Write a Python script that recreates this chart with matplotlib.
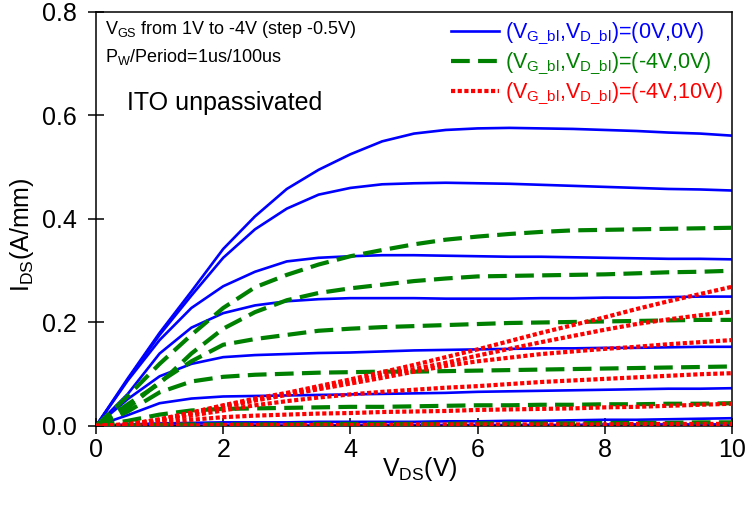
import matplotlib
matplotlib.use("Agg")
import matplotlib.pyplot as plt

plt.rcParams["font.family"] = ["Liberation Sans", "DejaVu Sans"]
plt.rcParams["mathtext.fontset"] = "custom"
plt.rcParams["mathtext.rm"] = "Liberation Sans"
plt.rcParams["mathtext.it"] = "Liberation Sans"

# drain voltage sweep (V)
vds = [0.0, 0.5, 1.0, 1.5, 2.0, 2.5, 3.0, 3.5, 4.0, 4.5, 5.0,
       5.5, 6.0, 6.5, 7.0, 7.5, 8.0, 8.5, 9.0, 9.5, 10.0]

# (VG_bl, VD_bl) = (0V, 0V), VGS = 1V ... -4V
ids_0_0 = [
    [0, 0.092, 0.180, 0.260, 0.342, 0.405, 0.458, 0.495, 0.525, 0.550, 0.565, 0.572, 0.575, 0.576, 0.575, 0.574, 0.572, 0.570, 0.567, 0.565, 0.561],
    [0, 0.090, 0.176, 0.252, 0.325, 0.380, 0.420, 0.447, 0.460, 0.467, 0.469, 0.470, 0.469, 0.468, 0.466, 0.464, 0.462, 0.460, 0.458, 0.457, 0.455],
    [0, 0.088, 0.166, 0.228, 0.270, 0.298, 0.318, 0.325, 0.328, 0.330, 0.330, 0.329, 0.328, 0.327, 0.327, 0.326, 0.325, 0.324, 0.323, 0.323, 0.322],
    [0, 0.062, 0.140, 0.190, 0.218, 0.233, 0.241, 0.245, 0.247, 0.247, 0.247, 0.246, 0.246, 0.246, 0.247, 0.247, 0.248, 0.248, 0.249, 0.250, 0.250],
    [0, 0.052, 0.096, 0.120, 0.133, 0.137, 0.139, 0.141, 0.142, 0.144, 0.146, 0.147, 0.148, 0.149, 0.150, 0.150, 0.151, 0.151, 0.152, 0.153, 0.153],
    [0, 0.021, 0.044, 0.053, 0.057, 0.058, 0.059, 0.060, 0.061, 0.062, 0.063, 0.064, 0.066, 0.067, 0.068, 0.069, 0.070, 0.071, 0.072, 0.072, 0.073],
    [0, 0.003, 0.005, 0.006, 0.007, 0.007, 0.007, 0.008, 0.008, 0.008, 0.008, 0.009, 0.009, 0.010, 0.010, 0.011, 0.012, 0.012, 0.013, 0.014, 0.015],
    [0, 0.000, 0.001, 0.001, 0.001, 0.001, 0.001, 0.001, 0.002, 0.002, 0.002, 0.002, 0.002, 0.002, 0.002, 0.002, 0.003, 0.003, 0.003, 0.003, 0.003],
]

# (VG_bl, VD_bl) = (-4V, 0V)
ids_m4_0 = [
    [0, 0.058, 0.120, 0.176, 0.228, 0.268, 0.292, 0.312, 0.328, 0.340, 0.351, 0.360, 0.366, 0.371, 0.375, 0.378, 0.379, 0.380, 0.381, 0.382, 0.383],
    [0, 0.042, 0.082, 0.140, 0.188, 0.220, 0.243, 0.257, 0.266, 0.273, 0.280, 0.285, 0.289, 0.290, 0.291, 0.292, 0.293, 0.295, 0.297, 0.298, 0.300],
    [0, 0.035, 0.085, 0.125, 0.157, 0.168, 0.176, 0.184, 0.188, 0.191, 0.193, 0.195, 0.197, 0.199, 0.200, 0.201, 0.202, 0.203, 0.204, 0.205, 0.205],
    [0, 0.028, 0.065, 0.086, 0.095, 0.099, 0.101, 0.103, 0.104, 0.105, 0.105, 0.106, 0.107, 0.108, 0.109, 0.110, 0.111, 0.112, 0.113, 0.114, 0.115],
    [0, 0.010, 0.022, 0.030, 0.033, 0.034, 0.035, 0.036, 0.037, 0.037, 0.038, 0.039, 0.040, 0.040, 0.041, 0.041, 0.042, 0.042, 0.043, 0.043, 0.044],
    [0, 0.001, 0.002, 0.003, 0.003, 0.003, 0.003, 0.004, 0.004, 0.004, 0.004, 0.004, 0.005, 0.005, 0.005, 0.005, 0.006, 0.006, 0.006, 0.007, 0.007],
]

# (VG_bl, VD_bl) = (-4V, 10V)
ids_m4_10 = [
    [0, 0.003, 0.013, 0.026, 0.040, 0.053, 0.064, 0.077, 0.090, 0.104, 0.118, 0.133, 0.148, 0.164, 0.180, 0.195, 0.210, 0.226, 0.241, 0.255, 0.269],
    [0, 0.003, 0.012, 0.025, 0.039, 0.051, 0.062, 0.074, 0.086, 0.098, 0.110, 0.122, 0.136, 0.149, 0.162, 0.174, 0.186, 0.197, 0.206, 0.214, 0.221],
    [0, 0.003, 0.012, 0.024, 0.037, 0.049, 0.060, 0.071, 0.082, 0.093, 0.105, 0.116, 0.125, 0.132, 0.139, 0.144, 0.149, 0.153, 0.158, 0.162, 0.166],
    [0, 0.002, 0.010, 0.020, 0.030, 0.040, 0.048, 0.055, 0.061, 0.066, 0.070, 0.074, 0.077, 0.081, 0.085, 0.088, 0.091, 0.094, 0.097, 0.100, 0.102],
    [0, 0.001, 0.006, 0.012, 0.017, 0.020, 0.022, 0.024, 0.025, 0.027, 0.028, 0.029, 0.031, 0.032, 0.033, 0.034, 0.036, 0.037, 0.039, 0.041, 0.043],
    [0, 0.000, 0.001, 0.001, 0.002, 0.002, 0.002, 0.002, 0.002, 0.002, 0.003, 0.003, 0.003, 0.003, 0.003, 0.003, 0.003, 0.004, 0.004, 0.004, 0.004],
]

labels = [r"(V$_{\mathrm{G\_bl}}$,V$_{\mathrm{D\_bl}}$)=(0V,0V)",
          r"(V$_{\mathrm{G\_bl}}$,V$_{\mathrm{D\_bl}}$)=(-4V,0V)",
          r"(V$_{\mathrm{G\_bl}}$,V$_{\mathrm{D\_bl}}$)=(-4V,10V)"]

fig = plt.figure(figsize=(7.47, 5.09), dpi=100)
ax = fig.add_axes([0.1285, 0.1631, 0.8514, 0.8134])

for i, ids in enumerate(ids_0_0):
    ax.plot(vds, ids, color="#0000ff", lw=1.9, solid_joinstyle="round",
            label=labels[0] if i == 0 else None, zorder=2)
for i, ids in enumerate(ids_m4_0):
    ax.plot(vds, ids, color="#008000", lw=3.0, dashes=(4.5, 2),
            label=labels[1] if i == 0 else None, zorder=3)
for i, ids in enumerate(ids_m4_10):
    ax.plot(vds, ids, color="#ff0000", lw=3.0, dashes=(1, 0.6),
            label=labels[2] if i == 0 else None, zorder=4)

ax.set_xlim(0, 10)
ax.set_ylim(0, 0.8)
ax.set_xticks([0, 2, 4, 6, 8, 10])
ax.set_yticks([0.0, 0.2, 0.4, 0.6, 0.8])
ax.set_yticklabels(["0.0", "0.2", "0.4", "0.6", "0.8"])
ax.tick_params(direction="inout", length=12, width=1.1, labelsize=18, pad=3)
ax.tick_params(axis="y", pad=7.5)
for sp in ax.spines.values():
    sp.set_linewidth(1.1)

ax.set_xlabel(r"V$_{\mathrm{DS}}$(V)", fontsize=18)
ax.xaxis.set_label_coords(0.51, -0.07)
ax.set_ylabel(r"I$_{\mathrm{DS}}$(A/mm)", fontsize=18)
ax.yaxis.set_label_coords(-0.095, 0.461)

ax.text(0.014, 0.957, r"V$_{\mathrm{GS}}$ from 1V to -4V (step -0.5V)",
        transform=ax.transAxes, fontsize=13, va="center", ha="left")
ax.text(0.014, 0.891, r"P$_{\mathrm{W}}$/Period=1us/100us",
        transform=ax.transAxes, fontsize=13, va="center", ha="left")
ax.text(0.049, 0.78, "ITO unpassivated",
        transform=ax.transAxes, fontsize=18, va="center", ha="left")

ax.legend(loc="upper right", bbox_to_anchor=(1.0, 1.0), frameon=False,
          fontsize=15.5, handlelength=2.2, handletextpad=0.28,
          labelspacing=0.2, labelcolor="linecolor", borderaxespad=0.0,
          borderpad=0.4)

fig.savefig("out.png", dpi=100)
